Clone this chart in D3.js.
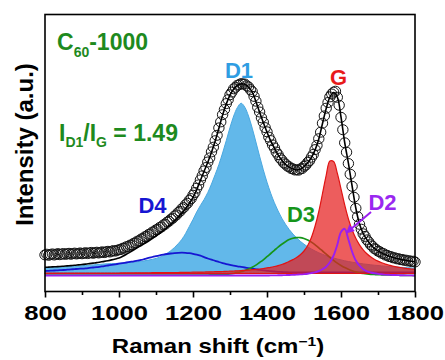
<!DOCTYPE html>
<html>
<head>
<meta charset="utf-8">
<script src="https://cdn.jsdelivr.net/npm/d3@7"></script>
<style>
  body { margin: 0; background: #fff; }
  svg { display: block; }
  text { font-family: "Liberation Sans", Arial, sans-serif; font-weight: bold; }
</style>
</head>
<body>
<svg id="chart" width="445" height="360"></svg>
<script>
// Raman shift grids (cm-1)
const shiftData = d3.range(800, 1801, 5);
const shiftFit = d3.range(800, 1801, 10);

// measured spectrum (open circles), every 5 cm-1
const measured = [
  17.6, 18.3, 17.2, 18.0, 18.6, 17.5, 18.2, 18.9, 17.8, 18.4,
  19.0, 18.1, 18.7, 19.2, 18.2, 18.9, 19.4, 18.5, 19.0, 19.6,
  18.7, 19.3, 19.8, 18.9, 19.5, 20.1, 19.2, 19.8, 20.3, 19.5,
  20.1, 20.7, 19.9, 20.6, 21.2, 20.5, 21.3, 21.9, 21.4, 22.2,
  22.8, 23.0, 24.3, 24.4, 25.8, 26.0, 27.4, 27.7, 29.3, 29.7,
  31.4, 31.8, 33.5, 34.0, 35.8, 36.3, 38.1, 38.6, 40.4, 40.9,
  42.7, 43.2, 45.1, 45.6, 47.6, 48.3, 50.4, 51.2, 53.3, 54.2,
  56.5, 57.5, 60.0, 61.2, 63.8, 65.0, 67.8, 69.2, 72.1, 73.9,
  77.3, 80.0, 84.3, 87.6, 92.6, 96.6, 101.6, 105.0, 110.5, 114.6,
  120.6, 125.3, 131.8, 137.2, 144.6, 150.6, 157.8, 163.0, 168.9, 172.9,
  177.7, 180.4, 183.7, 185.2, 187.3, 187.8, 188.9, 188.4, 188.5, 186.7,
  185.6, 182.9, 180.9, 176.1, 171.3, 165.2, 160.5, 154.7, 150.3, 144.9,
  140.7, 135.4, 131.9, 127.6, 124.6, 120.5, 117.9, 114.4, 112.5, 109.7,
  108.5, 106.4, 105.7, 104.0, 103.7, 102.5, 102.8, 102.3, 103.5, 104.0,
  106.2, 107.4, 110.1, 111.8, 115.3, 118.1, 122.9, 127.1, 133.8, 140.3,
  149.3, 156.6, 164.3, 170.0, 175.6, 178.5, 180.3, 181.3, 175.2, 167.3,
  155.2, 142.8, 129.7, 120.3, 109.0, 98.3, 86.2, 75.3, 64.2, 55.8,
  48.2, 43.3, 38.7, 36.1, 32.6, 30.6, 27.7, 26.3, 23.9, 23.1,
  21.3, 20.8, 19.2, 18.9, 17.4, 17.2, 15.9, 15.9, 14.7, 14.8,
  13.7, 13.9, 12.9, 13.1, 12.2, 12.4, 11.5, 11.8, 10.9, 11.3,
  10.5
];

// cumulative fit, every 10 cm-1
const fitSum = [
  5.2, 5.4, 5.6, 5.8, 6.0, 6.3, 6.6, 6.9, 7.2, 7.6,
  8.0, 8.4, 8.9, 9.4, 9.9, 10.5, 11.1, 11.8, 12.6, 13.5,
  14.5, 16.2, 18.2, 20.4, 22.6, 25.0, 27.0, 29.2, 31.5, 34.0,
  36.5, 39.2, 42.0, 45.0, 48.3, 51.7, 55.5, 59.6, 64.0, 69.0,
  75.0, 83.0, 92.0, 101.3, 110.2, 120.3, 131.5, 144.3, 157.5, 168.6,
  177.4, 183.4, 187.0, 188.6, 188.2, 185.3, 180.6, 171.0, 160.2, 150.0,
  140.4, 131.6, 124.3, 117.6, 112.2, 108.2, 105.4, 103.4, 102.5, 103.2,
  105.9, 109.8, 115.0, 122.6, 133.5, 149.0, 164.0, 175.3, 180.0, 175.5,
  155.5, 130.0, 109.3, 86.5, 64.5, 48.5, 39.0, 32.9, 28.0, 24.2,
  21.6, 19.5, 17.7, 16.2, 15.0, 14.0, 13.2, 12.5, 11.8, 11.2,
  10.7
];

// fitted bands, every 10 cm-1
const bandD1 = [
  5.0, 5.1, 5.2, 5.4, 5.5, 5.7, 5.9, 6.1, 6.3, 6.5,
  6.8, 7.0, 7.3, 7.6, 7.9, 8.2, 8.5, 8.7, 8.9, 9.0,
  9.2, 9.5, 9.8, 10.1, 10.4, 10.8, 11.2, 11.8, 12.4, 13.2,
  14.1, 15.3, 17.0, 19.2, 21.8, 25.0, 28.8, 33.2, 39.0, 46.0,
  53.0, 60.5, 67.0, 73.0, 80.0, 88.5, 98.0, 108.0, 119.5, 132.0,
  145.0, 156.5, 165.0, 169.3, 165.3, 156.5, 144.4, 130.5, 116.3, 102.7,
  90.3, 79.3, 69.7, 61.5, 54.3, 48.2, 43.0, 38.5, 34.6, 31.2,
  28.3, 25.7, 23.5, 21.5, 19.7, 18.2, 16.8, 15.6, 14.5, 13.5,
  12.6, 11.7, 11.0, 10.3, 9.7, 9.2, 8.6, 8.2, 7.7, 7.3,
  7.0, 6.6, 6.3, 6.0, 5.7, 5.5, 5.2, 5.0, 4.8, 4.6,
  4.4
];

const bandG = [
  -0.7, -0.7, -0.7, -0.7, -0.7, -0.7, -0.6, -0.6, -0.6, -0.6,
  -0.6, -0.6, -0.6, -0.6, -0.6, -0.5, -0.5, -0.5, -0.5, -0.5,
  -0.5, -0.4, -0.4, -0.4, -0.4, -0.3, -0.3, -0.3, -0.3, -0.2,
  -0.2, -0.2, -0.1, -0.1, 0.0, 0.0, 0.0, 0.1, 0.1, 0.2,
  0.3, 0.3, 0.4, 0.5, 0.6, 0.7, 0.8, 0.9, 1.0, 1.2,
  1.3, 1.5, 1.7, 1.9, 2.2, 2.4, 2.8, 3.1, 3.5, 4.0,
  4.6, 5.2, 6.0, 6.9, 8.0, 9.4, 11.1, 12.9, 14.9, 17.8,
  21.5, 27.0, 35.0, 46.5, 61.0, 79.0, 97.2, 111.5, 111.0, 99.3,
  83.7, 67.6, 53.7, 42.7, 34.2, 27.7, 22.7, 18.8, 15.7, 13.3,
  11.4, 9.8, 8.4, 7.4, 6.4, 5.7, 5.0, 4.4, 3.9, 3.5,
  3.1
];

const bandD3 = [
  -2.5, -2.5, -2.5, -2.5, -2.5, -2.5, -2.5, -2.5, -2.5, -2.5,
  -2.5, -2.5, -2.5, -2.5, -2.5, -2.5, -2.5, -2.5, -2.5, -2.5,
  -2.5, -2.5, -2.5, -2.5, -2.5, -2.5, -2.5, -2.5, -2.5, -2.5,
  -2.5, -2.5, -2.5, -2.5, -2.5, -2.5, -2.5, -2.5, -2.5, -2.5,
  -2.5, -2.5, -2.5, -2.5, -2.5, -2.4, -2.3, -2.2, -2.0, -1.7,
  -1.3, -0.8, -0.1, 0.8, 2.0, 3.5, 5.3, 7.4, 10.0, 12.7,
  15.8, 19.0, 22.2, 25.4, 28.3, 30.8, 32.9, 34.3, 34.9, 34.9,
  34.0, 32.5, 30.4, 27.7, 24.7, 21.5, 18.3, 15.1, 12.1, 9.4,
  7.0, 4.9, 3.2, 1.8, 0.6, -0.3, -0.9, -1.4, -1.8, -2.0,
  -2.2, -2.3, -2.4, -2.5, -2.6, -2.7, -2.8, -2.9, -3.0, -3.0,
  -3.1
];

const bandD2 = [
  -3.0, -3.0, -3.0, -3.0, -3.0, -3.0, -3.0, -3.0, -3.0, -3.0,
  -3.0, -3.0, -3.0, -3.0, -3.0, -3.0, -3.0, -3.0, -3.0, -3.0,
  -3.0, -3.0, -3.0, -3.0, -3.0, -3.0, -3.0, -3.0, -3.0, -3.0,
  -3.0, -3.0, -3.0, -3.0, -3.0, -3.0, -3.0, -3.0, -3.0, -3.0,
  -3.0, -3.0, -3.0, -3.0, -3.0, -3.0, -3.0, -3.0, -3.0, -3.0,
  -3.0, -3.0, -3.0, -3.0, -3.0, -3.0, -3.0, -3.0, -3.0, -3.0,
  -3.0, -2.9, -2.9, -2.8, -2.7, -2.6, -2.5, -2.3, -2.1, -1.9,
  -1.6, -1.2, -0.6, 0.2, 1.5, 3.3, 5.8, 10.2, 17.0, 27.7,
  40.5, 43.7, 33.0, 20.8, 12.0, 6.8, 3.2, 1.2, 0.0, -0.8,
  -1.4, -1.8, -2.1, -2.3, -2.5, -2.6, -2.7, -2.8, -2.9, -2.9,
  -3.0
];

const bandD4 = [
  1.5, 1.7, 1.9, 2.1, 2.3, 2.5, 2.8, 3.1, 3.4, 3.7,
  3.9, 4.2, 4.6, 5.0, 5.4, 5.9, 6.4, 7.0, 7.6, 8.2,
  8.8, 9.4, 10.0, 10.6, 11.2, 11.9, 12.6, 13.6, 14.6, 15.5,
  16.4, 17.2, 17.9, 18.5, 19.0, 19.4, 19.7, 19.8, 19.7, 19.3,
  18.7, 17.9, 16.8, 15.4, 14.0, 12.8, 11.7, 10.5, 9.4, 8.4,
  7.6, 6.9, 6.2, 5.6, 5.0, 4.4, 3.8, 3.2, 2.6, 2.1,
  1.7, 1.3, 1.0, 0.7, 0.5, 0.3, 0.1, 0.0, 0.0, 0.0,
  0.0, 0.0, 0.0, 0.0, 0.0, 0.0, 0.0, 0.0, 0.0, 0.0,
  0.0, 0.0, 0.0, 0.0, 0.0, 0.0, 0.0, 0.0, 0.0, 0.0,
  0.0, 0.0, 0.0, 0.0, 0.0, 0.0, 0.0, 0.0, 0.0, 0.0,
  0.0
];

const majorTicks = [800, 1000, 1200, 1400, 1600, 1800];
const minorTicks = [900, 1100, 1300, 1500, 1700];

const svg = d3.select("#chart");
const plot = { left: 45, right: 415, top: 14.5, bottom: 291.5 };

const x = d3.scaleLinear().domain([800, 1800]).range([plot.left, plot.right]);
const y = d3.scaleLinear().domain([-19, 258]).range([plot.bottom, plot.top]);

svg.append("rect").attr("width", 445).attr("height", 360).attr("fill", "#fff");

const lineOf = d3.line()
  .x((d, i) => x(shiftFit[i]))
  .y(d => y(d))
  .curve(d3.curveCatmullRom);

// D1 band (filled)
svg.append("path")
  .attr("d", d3.area()
    .x((d, i) => x(shiftFit[i]))
    .y0(y(0))
    .y1(d => y(d))
    .curve(d3.curveCatmullRom)(bandD1))
  .attr("fill", "#62b8ea")
  .attr("stroke", "#4aa8e0")
  .attr("stroke-width", 1);

// D4 and D3 lines
svg.append("path").attr("d", lineOf(bandD4))
  .attr("fill", "none").attr("stroke", "#1616d2").attr("stroke-width", 1.8);
svg.append("path").attr("d", lineOf(bandD3))
  .attr("fill", "none").attr("stroke", "#16951a").attr("stroke-width", 1.7);

// G band (filled, translucent)
svg.append("path")
  .attr("d", d3.area()
    .x((d, i) => x(shiftFit[i]))
    .y0(y(-1))
    .y1(d => y(d))
    .curve(d3.curveCatmullRom)(bandG))
  .attr("fill", "#e61e1e")
  .attr("fill-opacity", 0.72)
  .attr("stroke", "#e01414")
  .attr("stroke-width", 1.2);

// D2 line
svg.append("path").attr("d", lineOf(bandD2))
  .attr("fill", "none").attr("stroke", "#9a1ef0").attr("stroke-width", 1.9);

// measured points
svg.append("g").selectAll("ellipse")
  .data(measured)
  .join("ellipse")
  .attr("cx", (d, i) => x(shiftData[i]))
  .attr("cy", d => y(d))
  .attr("rx", 5.2)
  .attr("ry", 5)
  .attr("fill", "none")
  .attr("stroke", "#151515")
  .attr("stroke-width", 1);

// cumulative fit
svg.append("path").attr("d", lineOf(fitSum))
  .attr("fill", "none").attr("stroke", "#000").attr("stroke-width", 1.6);

// x axis
const axisG = svg.append("g").attr("transform", `translate(0,${plot.bottom})`);
axisG.call(d3.axisBottom(x).tickValues(majorTicks).tickSize(6).tickSizeOuter(0).tickFormat(d3.format("d")));
axisG.select(".domain").remove();
axisG.selectAll(".tick line").attr("stroke", "#000").attr("stroke-width", 1.6);
axisG.selectAll(".tick text")
  .attr("y", 28.5).attr("dy", null)
  .attr("transform", "scale(1.22,1)")
  .style("font-size", "21px")
  .attr("fill", "#000");

const minorG = svg.append("g").attr("transform", `translate(0,${plot.bottom})`);
minorG.call(d3.axisBottom(x).tickValues(minorTicks).tickSize(3.5).tickSizeOuter(0).tickFormat(""));
minorG.select(".domain").remove();
minorG.selectAll(".tick line").attr("stroke", "#000").attr("stroke-width", 1.6);

// frame
svg.append("rect")
  .attr("x", plot.left).attr("y", plot.top)
  .attr("width", plot.right - plot.left).attr("height", plot.bottom - plot.top)
  .attr("fill", "none").attr("stroke", "#000").attr("stroke-width", 1.6);

// axis titles
const xTitle = svg.append("text")
  .attr("transform", "translate(218,353) scale(1.2,1)")
  .attr("text-anchor", "middle")
  .style("font-size", "20px");
xTitle.append("tspan").text("Raman shift (cm");
xTitle.append("tspan").attr("dy", -7).style("font-size", "13px").text("\u22121");
xTitle.append("tspan").attr("dy", 7).text(")");

svg.append("text")
  .attr("transform", "translate(33,144.5) rotate(-90)")
  .attr("text-anchor", "middle")
  .style("font-size", "24px")
  .text("Intensity (a.u.)");

// annotations
const green = "#1e8a1e";
const sample = svg.append("text").attr("x", 57).attr("y", 50)
  .attr("fill", green).style("font-size", "23px");
sample.append("tspan").text("C");
sample.append("tspan").attr("dy", 7).style("font-size", "14px").text("60");
sample.append("tspan").attr("dy", -7).text("-1000");

const ratio = svg.append("text").attr("x", 59).attr("y", 141)
  .attr("fill", green).style("font-size", "23px");
ratio.append("tspan").text("I");
ratio.append("tspan").attr("dy", 6).style("font-size", "14px").text("D1");
ratio.append("tspan").attr("dy", -6).text("/I");
ratio.append("tspan").attr("dy", 6).style("font-size", "14px").text("G");
ratio.append("tspan").attr("dy", -6).text(" = 1.49");

const labels = [
  { t: "D1", x: 239, y: 78, c: "#2f9de2" },
  { t: "G", x: 338.5, y: 85, c: "#e81a1a" },
  { t: "D4", x: 152.5, y: 213, c: "#1616d2" },
  { t: "D3", x: 301, y: 222, c: "#16951a" },
  { t: "D2", x: 382.5, y: 210, c: "#9a28f0" }
];
svg.append("g").selectAll("text")
  .data(labels)
  .join("text")
  .attr("x", d => d.x).attr("y", d => d.y)
  .attr("text-anchor", "middle")
  .attr("fill", d => d.c)
  .style("font-size", "22px")
  .text(d => d.t);

// arrow D2
svg.append("line")
  .attr("x1", 371).attr("y1", 212).attr("x2", 351).attr("y2", 229)
  .attr("stroke", "#9a1ef0").attr("stroke-width", 2);
svg.append("polygon")
  .attr("points", "346,233.5 354.8,231 349.3,224.5")
  .attr("fill", "#9a1ef0");
</script>
</body>
</html>
